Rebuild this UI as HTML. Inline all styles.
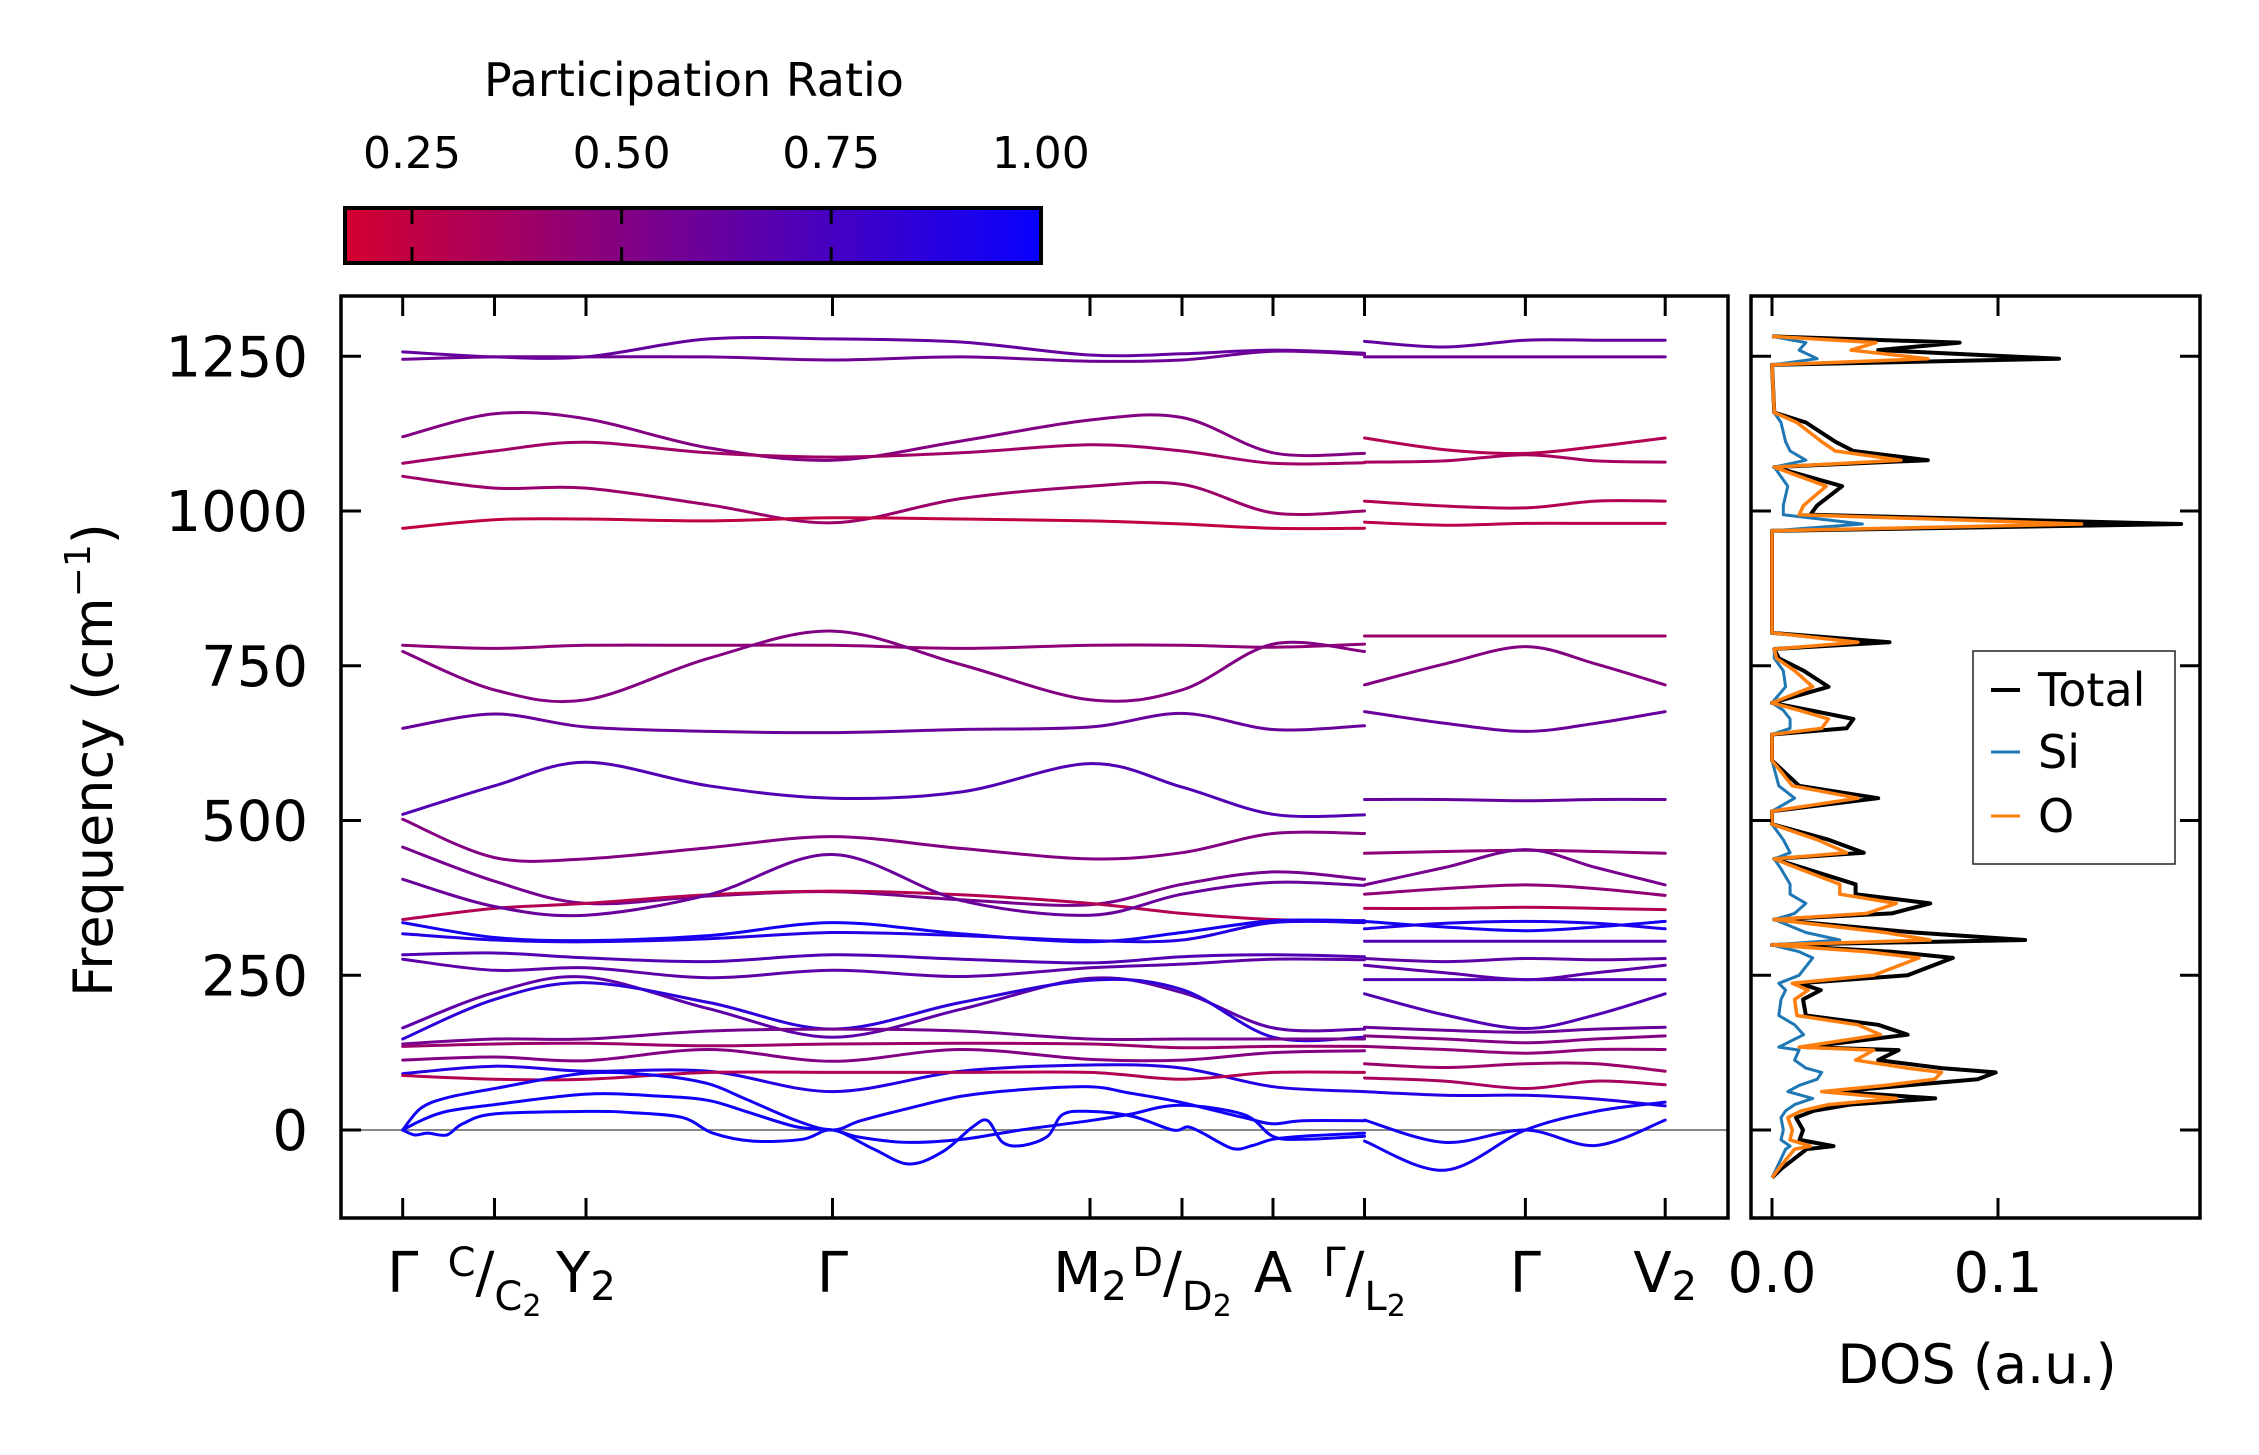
<!DOCTYPE html>
<html><head><meta charset="utf-8">
<style>
html,body{margin:0;padding:0;background:#fff;}
svg{display:block;font-family:"DejaVu Sans","Liberation Sans",sans-serif;}
</style></head>
<body>
<svg id="fig" width="2259" height="1455" viewBox="0 0 2259 1455" xmlns="http://www.w3.org/2000/svg">
<defs>
<linearGradient id="cmap" x1="0" x2="1" y1="0" y2="0">
<stop offset="0" stop-color="rgb(212,0,48)"/>
<stop offset="1" stop-color="rgb(8,0,255)"/>
</linearGradient>
<clipPath id="mainclip"><rect x="341" y="296" width="1387" height="922"/></clipPath>
<clipPath id="dosclip"><rect x="1751" y="296" width="449" height="922"/></clipPath>
</defs>
<g>
<text x="694" y="96" font-size="46" text-anchor="middle">Participation Ratio</text>
<rect x="345" y="208" width="696" height="55" fill="url(#cmap)" stroke="#000" stroke-width="4"/>
<g id="cbticks"></g>
</g>
<g id="main"></g>
<g id="dos"></g>
<text transform="translate(112,760) rotate(-90)" font-size="54" text-anchor="middle">Frequency (cm<tspan font-size="36" dy="-22">−1</tspan><tspan dy="22">)</tspan></text>
<text x="1977" y="1383" font-size="54" text-anchor="middle">DOS (a.u.)</text>
</svg>
<script>
// ---------- data ----------
const cbTicks = [0.25, 0.5, 0.75, 1.0];
const cbTickLabels = ["0.25", "0.50", "0.75", "1.00"];
const yTicks = [0, 250, 500, 750, 1000, 1250];
const kTicks = [0, 0.918, 1.833, 4.298, 6.873, 7.793, 8.703, 9.618, 11.227, 12.625];
const part1K = [0, 0.918, 1.833, 3.06, 4.298, 5.58, 6.873, 7.793, 8.703, 9.618];
const part2K = [9.618, 10.42, 11.227, 11.93, 12.625];
const part1Bands = [
 [1257,1249,1249,1278,1278,1273,1252,1254,1260,1255],
 [1245,1249,1249,1249,1244,1249,1242,1244,1258,1253],
 [1120,1157,1149,1102,1082,1113,1147,1151,1094,1093],
 [1077,1097,1111,1094,1087,1094,1107,1097,1077,1078],
 [1056,1037,1037,1010,981,1020,1040,1043,997,1000],
 [972,986,987,984,989,987,984,979,972,972],
 [783,778,783,783,783,778,783,783,780,785],
 [773,711,695,762,806,752,695,711,785,773],
 [649,672,651,644,642,647,651,673,647,653],
 [510,556,594,556,536,546,592,554,510,509],
 [502,440,438,456,474,455,438,448,479,479],
 [457,402,366,378,385,372,364,397,417,405],
 [340,358,366,380,386,380,366,350,340,338],
 [405,361,347,380,445,371,347,381,400,395],
 [335,311,306,314,335,317,304,319,338,338],
 [317,307,304,309,319,314,306,307,335,335],
 [283,286,278,272,283,276,270,280,283,280],
 [276,258,262,246,258,248,262,268,276,275],
 [165,222,247,196,150,195,245,222,165,163],
 [147,211,238,206,163,206,242,227,150,150],
 [139,147,147,160,163,160,147,147,147,147],
 [135,139,140,136,139,140,139,133,135,135],
 [113,118,112,130,111,130,114,113,125,128],
 [91,103,95,95,62,95,105,100,70,62],
 [88,82,82,93,93,93,93,82,93,93]
];
const part1PR = [0.62,0.58,0.5,0.38,0.4,0.25,0.45,0.5,0.6,0.7,0.5,0.55,0.3,0.6,0.95,0.9,0.7,0.65,0.65,0.85,0.55,0.4,0.5,0.9,0.3];
const part2Bands = [
 [1274,1265,1276,1276,1276],
 [1249,1249,1249,1249,1249],
 [1118,1099,1093,1104,1118],
 [1079,1081,1091,1081,1079],
 [1016,1008,1005,1016,1016],
 [982,977,980,980,980],
 [798,798,798,798,798],
 [719,753,781,753,719],
 [676,657,644,657,676],
 [534,534,532,534,534],
 [447,450,452,450,447],
 [396,424,453,424,396],
 [381,390,396,390,379],
 [358,358,360,358,356],
 [337,328,322,328,337],
 [325,334,337,334,325],
 [305,305,305,305,305],
 [277,272,277,275,277],
 [266,254,243,254,266],
 [243,243,243,243,243],
 [220,186,164,186,220],
 [166,161,158,163,166],
 [152,147,141,147,152],
 [135,130,124,130,130],
 [107,101,107,107,95],
 [84,79,67,79,73],
 [62,56,56,50,39],
 [16,-20,0,-25,16],
 [-18,-65,0,30,45]
];
const part2PR = [0.62,0.58,0.3,0.35,0.3,0.28,0.4,0.5,0.6,0.62,0.45,0.55,0.45,0.3,0.95,0.92,0.7,0.65,0.65,0.7,0.7,0.6,0.5,0.45,0.4,0.35,0.9,0.95,0.95];
const ac1K = [0,0.18,0.44,0.92,1.84,2.54,3.05,3.43,3.94,4.30,4.58,5.06,5.60,6.18,6.87,7.26,7.77,8.41,8.70,9.0,9.618];
const ac1V = [0,35,52,67,92,88,75,50,15,0,15,35,55,65,70,60,45,20,10,15,15];
const ac2K = [0,0.18,0.44,0.92,1.84,2.54,3.05,3.43,3.94,4.30,4.58,5.06,5.60,6.18,6.87,7.26,7.77,8.41,8.70,9.0,9.618];
const ac2V = [0,15,30,41,58,55,48,30,5,0,-12,-20,-15,0,15,25,40,25,-10,-15,-10];
const ac3K = [0,0.12,0.25,0.44,0.6,0.92,1.84,2.3,2.8,3.1,3.5,4.0,4.30,4.7,5.06,5.4,5.7,5.85,6.0,6.2,6.45,6.6,6.87,7.3,7.7,7.85,8.0,8.3,8.5,8.70,9.0,9.618];
const ac3V = [0,-8,-5,-8,10,26,30,28,20,-5,-18,-15,0,-30,-55,-35,5,15,-20,-25,-10,25,30,22,0,5,-5,-30,-25,-15,-10,-5];
const acPR = [0.95, 0.97, 0.98];
const dosFreq = [-77,-62,-31,-26,-16,0,20,31,41,51,62,72,82,93,100,113,129,134,154,170,185,211,226,237,250,278,288,299,307,319,340,350,366,381,397,422,438,448,469,494,515,536,556,597,639,649,664,678,690,716,742,762,777,788,803,968,979,994,1009,1040,1071,1082,1097,1112,1143,1159,1236,1246,1260,1272,1282];
const dosTotal = [0,4.3,15.3,27.2,12.2,13.7,10.6,18.5,34.3,72.2,28,59.6,91,99,75,47,56,15,60,47,15,13.7,21.6,12,60,80,53,0,112,63,1,53,70,37,37,15,1,40.6,25,0,0,47,12,0,0,33,36,17,0,25,14,3,1,52,0,0,181,17,20,31,1,69,36,28,15,1,0,127,47,83,0];
const dosO = [0,3,10,17,8,9,7,13,25,55,22,50,72,75,60,37,45,12,48,38,11,10,16,9,45,65,42,0,70,50,1,42,55,30,30,12,1,33,20,0,0,38,9,0,0,22,25,12,0,18,10,2,1,38,0,0,137,12,14,24,1,57,28,22,11,1,0,69,35,46,0];
const dosSi = [0,2,6,8,4,5,4,6,10,18,7,12,20,22,15,10,12,3,14,10,3,4,6,3,12,18,12,0,30,15,1,10,15,8,8,4,1,8,5,0,0,10,3,0,0,8,8,5,0,6,5,1,1,38,0,0,40,5,5,7,1,15,8,6,4,1,0,20,12,15,0];
const dosXTicks = [0.0, 0.1];
const dosXTickLabels = ["0.0", "0.1"];

// ---------- helpers ----------
const NS = "http://www.w3.org/2000/svg";
const xK = k => 402.7 + k * 100;
const yV = v => 1130 - v * 0.619;
const xD = d => 1772 + d * 2260;   // d in DOS units
const xCb = p => 412 + (p - 0.25) * 838.4;
function mk(tag, attrs, parent) {
  const e = document.createElementNS(NS, tag);
  for (const a in attrs) e.setAttribute(a, attrs[a]);
  parent.appendChild(e);
  return e;
}
function prColor(pr) {
  const t = Math.max(0, Math.min(1, (pr - 0.169) / (1 - 0.169)));
  return `rgb(${Math.round(212 - 204 * t)},0,${Math.round(48 + 207 * t)})`;
}
function smoothPath(pts) {
  let d = `M${pts[0][0].toFixed(1)},${pts[0][1].toFixed(1)}`;
  for (let i = 0; i < pts.length - 1; i++) {
    const p0 = pts[Math.max(0, i - 1)], p1 = pts[i], p2 = pts[i + 1], p3 = pts[Math.min(pts.length - 1, i + 2)];
    const c1x = p1[0] + (p2[0] - p0[0]) / 6, c1y = p1[1] + (p2[1] - p0[1]) / 6;
    const c2x = p2[0] - (p3[0] - p1[0]) / 6, c2y = p2[1] - (p3[1] - p1[1]) / 6;
    d += ` C${c1x.toFixed(1)},${c1y.toFixed(1)} ${c2x.toFixed(1)},${c2y.toFixed(1)} ${p2[0].toFixed(1)},${p2[1].toFixed(1)}`;
  }
  return d;
}

// ---------- colorbar ticks ----------
const cbG = document.getElementById('cbticks');
cbTicks.forEach((p, i) => {
  const x = xCb(p);
  if (p < 1) {
    const t1 = mk('line', {x1: x, x2: x, y1: 208, y2: 224, stroke: '#000', 'stroke-width': 3}, cbG);
    
    
    const t2 = mk('line', {x1: x, x2: x, y1: 247, y2: 263, stroke: '#000', 'stroke-width': 3}, cbG);
    
    
  }
  const lb = mk('text', {x: x, y: 168, 'font-size': 44, 'text-anchor': 'middle'}, cbG);
  lb.textContent = cbTickLabels[i];
  
  
});

// ---------- main panel ----------
const mainG = document.getElementById('main');
const bandsG = mk('g', {'clip-path': 'url(#mainclip)', fill: 'none', 'stroke-width': 3, 'stroke-linecap': 'round'}, mainG);


const zl = mk('line', {x1: 341, x2: 1728, y1: yV(0), y2: yV(0), stroke: '#888', 'stroke-width': 2}, bandsG);


function drawBand(ks, vs, pr) {
  const pts = ks.map((k, i) => [xK(k), yV(vs[i])]);
  const p = mk('path', {d: smoothPath(pts), stroke: prColor(pr)}, bandsG);
  
  
}
part1Bands.forEach((b, i) => drawBand(part1K, b, part1PR[i]));
part2Bands.forEach((b, i) => drawBand(part2K, b, part2PR[i]));
drawBand(ac1K, ac1V, acPR[0]);
drawBand(ac2K, ac2V, acPR[1]);
drawBand(ac3K, ac3V, acPR[2]);

const frame = mk('rect', {x: 341, y: 296, width: 1387, height: 922, fill: 'none', stroke: '#000', 'stroke-width': 3.5}, mainG);


yTicks.forEach(v => {
  const y = yV(v);
  const a = mk('line', {x1: 341, x2: 361, y1: y, y2: y, stroke: '#000', 'stroke-width': 3}, mainG);
  
  
  const lb = mk('text', {x: 308, y: y + 20, 'font-size': 56, 'text-anchor': 'end'}, mainG);
  lb.textContent = String(v);
  
  
});
kTicks.forEach(k => {
  const x = xK(k);
  const a = mk('line', {x1: x, x2: x, y1: 296, y2: 316, stroke: '#000', 'stroke-width': 3}, mainG);
  
  
  const b = mk('line', {x1: x, x2: x, y1: 1198, y2: 1218, stroke: '#000', 'stroke-width': 3}, mainG);
  
  
});
// high-symmetry labels
const labHTML = [
  ['Γ', 0, 'Γ'],
  ['C/C2', 0.918, '<tspan font-size="40" dy="-16">C</tspan><tspan dy="16">/</tspan><tspan font-size="40" dy="18">C</tspan><tspan font-size="30" dy="6">2</tspan>'],
  ['Y2', 1.833, 'Y<tspan font-size="40" dy="8">2</tspan>'],
  ['Γ', 4.298, 'Γ'],
  ['M2', 6.873, 'M<tspan font-size="40" dy="8">2</tspan>'],
  ['D/D2', 7.793, '<tspan font-size="40" dy="-16">D</tspan><tspan dy="16">/</tspan><tspan font-size="40" dy="18">D</tspan><tspan font-size="30" dy="6">2</tspan>'],
  ['A', 8.703, 'A'],
  ['Γ/L2', 9.618, '<tspan font-size="40" dy="-16">Γ</tspan><tspan dy="16">/</tspan><tspan font-size="40" dy="18">L</tspan><tspan font-size="30" dy="6">2</tspan>'],
  ['Γ', 11.227, 'Γ'],
  ['V2', 12.625, 'V<tspan font-size="40" dy="8">2</tspan>']
];
labHTML.forEach(l => {
  const t = mk('text', {x: xK(l[1]), y: 1292, 'font-size': 56, 'text-anchor': 'middle'}, mainG);
  t.innerHTML = l[2];
  
  
});

// ---------- DOS panel ----------
const dosG = document.getElementById('dos');
const dosLines = mk('g', {'clip-path': 'url(#dosclip)', fill: 'none', 'stroke-linejoin': 'round'}, dosG);


function dosPath(arr, color, w, name) {
  const d = dosFreq.map((f, i) => `${i ? 'L' : 'M'}${xD(arr[i] / 1000).toFixed(1)},${yV(f).toFixed(1)}`).join(' ');
  const p = mk('path', {d: d, stroke: color, 'stroke-width': w}, dosLines);
  
  
}
dosPath(dosTotal, '#000', 4, 'dos-total-line');
dosPath(dosSi, '#1f77b4', 3, 'dos-si-line');
dosPath(dosO, '#ff7f0e', 3.5, 'dos-o-line');
const dframe = mk('rect', {x: 1751, y: 296, width: 449, height: 922, fill: 'none', stroke: '#000', 'stroke-width': 3.5}, dosG);


yTicks.forEach(v => {
  const y = yV(v);
  const a = mk('line', {x1: 1751, x2: 1771, y1: y, y2: y, stroke: '#000', 'stroke-width': 3}, dosG);
  
  
  const b = mk('line', {x1: 2180, x2: 2200, y1: y, y2: y, stroke: '#000', 'stroke-width': 3}, dosG);
  
  
});
dosXTicks.forEach((d, i) => {
  const x = xD(d);
  const a = mk('line', {x1: x, x2: x, y1: 296, y2: 316, stroke: '#000', 'stroke-width': 3}, dosG);
  
  
  const b = mk('line', {x1: x, x2: x, y1: 1198, y2: 1218, stroke: '#000', 'stroke-width': 3}, dosG);
  
  
  const t = mk('text', {x: x, y: 1292, 'font-size': 56, 'text-anchor': 'middle'}, dosG);
  t.textContent = dosXTickLabels[i];
  
  
});
// legend
const lg = mk('g', {}, dosG);


mk('rect', {x: 1973, y: 651, width: 202, height: 213, fill: '#fff', stroke: '#222', 'stroke-width': 1.5}, lg);
const legendNames = ['Total', 'Si', 'O'];
const legendColors = ['#000', '#1f77b4', '#ff7f0e'];
const legendY = [690, 752, 816];
legendNames.forEach((n, i) => {
  const l = mk('line', {x1: 1991, x2: 2020, y1: legendY[i], y2: legendY[i], stroke: legendColors[i], 'stroke-width': i ? 3 : 4}, lg);
  
  
  const t = mk('text', {x: 2038, y: legendY[i] + 16, 'font-size': 46}, lg);
  t.textContent = n;
  
  
});
</script>
</body></html>
